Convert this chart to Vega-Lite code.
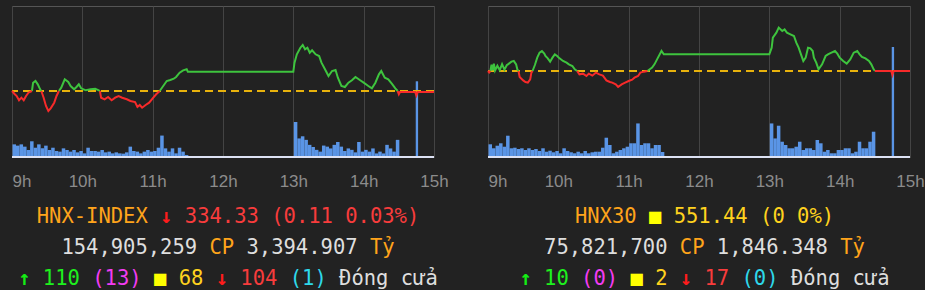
{
  "$schema": "https://vega.github.io/schema/vega-lite/v6.json",
  "background": "#222222",
  "padding": {"left": 7, "top": 5, "right": 0, "bottom": 0},
  "spacing": 34,
  "config": {"view": {"stroke": "#555555", "strokeWidth": 1}},
  "hconcat": [
    {
      "spacing": 12,
      "vconcat": [
        {
          "width": 422,
          "height": 151,
          "resolve": {"scale": {"y": "independent"}},
          "layer": [
            {
              "data": {
                "values": [
                  {"time": "09:00", "vol": 1.77}, {"time": "09:03", "vol": 1.59}, {"time": "09:06", "vol": 1.77}, {"time": "09:09", "vol": 1.45},
                  {"time": "09:12", "vol": 0.98}, {"time": "09:15", "vol": 2.2}, {"time": "09:18", "vol": 1.3}, {"time": "09:21", "vol": 1.77},
                  {"time": "09:24", "vol": 1.21}, {"time": "09:27", "vol": 1.59}, {"time": "09:30", "vol": 0.98}, {"time": "09:33", "vol": 1.3},
                  {"time": "09:36", "vol": 0.84}, {"time": "09:39", "vol": 0.75}, {"time": "09:42", "vol": 1.21}, {"time": "09:45", "vol": 0.98},
                  {"time": "09:48", "vol": 0.75}, {"time": "09:51", "vol": 0.98}, {"time": "09:54", "vol": 0.65}, {"time": "09:57", "vol": 0.84},
                  {"time": "10:00", "vol": 0.51}, {"time": "10:03", "vol": 1.3}, {"time": "10:06", "vol": 0.84}, {"time": "10:09", "vol": 0.84},
                  {"time": "10:12", "vol": 0.75}, {"time": "10:15", "vol": 0.98}, {"time": "10:18", "vol": 0.65}, {"time": "10:21", "vol": 0.75},
                  {"time": "10:24", "vol": 0.51}, {"time": "10:27", "vol": 0.65}, {"time": "10:30", "vol": 0.51}, {"time": "10:33", "vol": 0.47},
                  {"time": "10:36", "vol": 0.65}, {"time": "10:39", "vol": 1.45}, {"time": "10:42", "vol": 0.84}, {"time": "10:45", "vol": 0.75},
                  {"time": "10:48", "vol": 0.51}, {"time": "10:51", "vol": 0.75}, {"time": "10:54", "vol": 0.98}, {"time": "10:57", "vol": 0.75},
                  {"time": "11:00", "vol": 0.84}, {"time": "11:03", "vol": 1.3}, {"time": "11:06", "vol": 3.0}, {"time": "11:09", "vol": 1.21},
                  {"time": "11:12", "vol": 0.75}, {"time": "11:15", "vol": 1.21}, {"time": "11:18", "vol": 0.51}, {"time": "11:21", "vol": 1.3},
                  {"time": "11:24", "vol": 0.75}, {"time": "11:27", "vol": 0.28},
                  {"time": "13:00", "vol": 4.9}, {"time": "13:03", "vol": 2.6}, {"time": "13:06", "vol": 2.9}, {"time": "13:09", "vol": 2.4},
                  {"time": "13:12", "vol": 1.7}, {"time": "13:15", "vol": 1.4}, {"time": "13:18", "vol": 1.0}, {"time": "13:21", "vol": 0.75},
                  {"time": "13:24", "vol": 1.6}, {"time": "13:27", "vol": 1.45}, {"time": "13:30", "vol": 1.2}, {"time": "13:33", "vol": 1.7},
                  {"time": "13:36", "vol": 2.1}, {"time": "13:39", "vol": 1.45}, {"time": "13:42", "vol": 0.84}, {"time": "13:45", "vol": 1.2},
                  {"time": "13:48", "vol": 1.0}, {"time": "13:51", "vol": 0.65}, {"time": "13:54", "vol": 2.1}, {"time": "13:57", "vol": 0.75},
                  {"time": "14:00", "vol": 1.0}, {"time": "14:03", "vol": 0.75}, {"time": "14:06", "vol": 1.2}, {"time": "14:09", "vol": 0.5},
                  {"time": "14:12", "vol": 0.75}, {"time": "14:15", "vol": 0.5}, {"time": "14:18", "vol": 1.7}, {"time": "14:21", "vol": 1.2},
                  {"time": "14:24", "vol": 0.75}, {"time": "14:27", "vol": 2.4}
                ],
                "format": {"parse": {"time": "date:'%H:%M'"}}
              },
              "mark": {"type": "bar", "color": "#5a95e6", "binSpacing": 0},
              "encoding": {
                "x": {
                  "field": "time", "type": "temporal", "timeUnit": {"unit": "hoursminutes", "step": 3}, "title": null,
                  "scale": {"domain": [{"hours": 9}, {"hours": 15}]},
                  "axis": {
                    "title": null,
                    "values": [{"hours": 9}, {"hours": 10}, {"hours": 11}, {"hours": 12}, {"hours": 13}, {"hours": 14}, {"hours": 15}],
                    "labelExpr": "hours(datum.value) + 'h'",
                    "grid": true, "gridColor": "#444444", "gridWidth": 1,
                    "ticks": false, "tickSize": 0, "domain": false,
                    "labelFont": "Liberation Sans", "labelFontSize": 17, "labelColor": "#8c8c8c",
                    "labelPadding": 24, "labelBaseline": "middle", "labelFlush": false, "labelOverlap": false, "labelBound": false,
                    "labelAlign": {"condition": {"test": "hours(datum.value) == 9", "value": "left"}, "value": "center"}
                  }
                },
                "y": {"field": "vol", "type": "quantitative", "scale": {"domain": [0, 21.14]}, "axis": null}
              }
            },
            {
              "data": {"values": [{"time": "14:45", "vol": 10.6}], "format": {"parse": {"time": "date:'%H:%M'"}}},
              "mark": {"type": "bar", "color": "#5a95e6", "binSpacing": 0},
              "encoding": {
                "x": {
                  "field": "time", "type": "temporal", "timeUnit": {"unit": "hoursminutes", "step": 2}, "title": null,
                  "scale": {"domain": [{"hours": 9}, {"hours": 15}]},
                  "axis": {
                    "title": null,
                    "values": [{"hours": 9}, {"hours": 10}, {"hours": 11}, {"hours": 12}, {"hours": 13}, {"hours": 14}, {"hours": 15}],
                    "labelExpr": "hours(datum.value) + 'h'",
                    "grid": true, "gridColor": "#444444", "gridWidth": 1,
                    "ticks": false, "tickSize": 0, "domain": false,
                    "labelFont": "Liberation Sans", "labelFontSize": 17, "labelColor": "#8c8c8c",
                    "labelPadding": 24, "labelBaseline": "middle", "labelFlush": false, "labelOverlap": false, "labelBound": false,
                    "labelAlign": {"condition": {"test": "hours(datum.value) == 9", "value": "left"}, "value": "center"}
                  }
                },
                "y": {"field": "vol", "type": "quantitative", "scale": {"domain": [0, 21.14]}, "axis": null}
              }
            },
            {
              "data": {"values": [{"base": 0}]},
              "mark": {"type": "rule", "color": "#dde2f4", "strokeWidth": 2},
              "encoding": {"y": {"field": "base", "type": "quantitative", "scale": {"domain": [0, 21.14]}, "axis": null}}
            },
            {
              "data": {"values": [{"ref": 334.44}]},
              "mark": {"type": "rule", "color": "#e8b20c", "strokeWidth": 2, "strokeDash": [8, 5]},
              "encoding": {"y": {"field": "ref", "type": "quantitative", "scale": {"domain": [327.84, 342.94]}, "axis": null}}
            },
            {
              "data": {
                "values": [
                  {"time": "09:00", "price": 334.44, "seg": 1, "trend": "down"}, {"time": "09:02", "price": 334.17, "seg": 1, "trend": "down"},
                  {"time": "09:04", "price": 333.94, "seg": 1, "trend": "down"}, {"time": "09:06", "price": 333.51, "seg": 1, "trend": "down"},
                  {"time": "09:08", "price": 333.77, "seg": 1, "trend": "down"}, {"time": "09:10", "price": 333.51, "seg": 1, "trend": "down"},
                  {"time": "09:12", "price": 333.94, "seg": 1, "trend": "down"}, {"time": "09:14", "price": 334.27, "seg": 1, "trend": "down"},
                  {"time": "09:17", "price": 334.44, "seg": 1, "trend": "down"},
                  {"time": "09:17", "price": 334.44, "seg": 2, "trend": "up"}, {"time": "09:18", "price": 335.27, "seg": 2, "trend": "up"},
                  {"time": "09:20", "price": 335.44, "seg": 2, "trend": "up"}, {"time": "09:22", "price": 335.11, "seg": 2, "trend": "up"},
                  {"time": "09:24", "price": 334.61, "seg": 2, "trend": "up"}, {"time": "09:25", "price": 334.44, "seg": 2, "trend": "up"},
                  {"time": "09:25", "price": 334.44, "seg": 3, "trend": "down"}, {"time": "09:27", "price": 333.77, "seg": 3, "trend": "down"},
                  {"time": "09:29", "price": 332.94, "seg": 3, "trend": "down"}, {"time": "09:31", "price": 332.44, "seg": 3, "trend": "down"},
                  {"time": "09:33", "price": 332.71, "seg": 3, "trend": "down"}, {"time": "09:36", "price": 333.27, "seg": 3, "trend": "down"},
                  {"time": "09:38", "price": 333.94, "seg": 3, "trend": "down"}, {"time": "09:40", "price": 334.44, "seg": 3, "trend": "down"},
                  {"time": "09:40", "price": 334.44, "seg": 4, "trend": "up"}, {"time": "09:42", "price": 334.77, "seg": 4, "trend": "up"},
                  {"time": "09:45", "price": 335.61, "seg": 4, "trend": "up"}, {"time": "09:48", "price": 335.34, "seg": 4, "trend": "up"},
                  {"time": "09:50", "price": 334.94, "seg": 4, "trend": "up"}, {"time": "09:53", "price": 334.61, "seg": 4, "trend": "up"},
                  {"time": "09:55", "price": 334.84, "seg": 4, "trend": "up"}, {"time": "09:57", "price": 335.11, "seg": 4, "trend": "up"},
                  {"time": "09:59", "price": 334.71, "seg": 4, "trend": "up"}, {"time": "10:01", "price": 334.61, "seg": 4, "trend": "up"},
                  {"time": "10:03", "price": 334.51, "seg": 4, "trend": "up"}, {"time": "10:07", "price": 334.61, "seg": 4, "trend": "up"},
                  {"time": "10:11", "price": 334.67, "seg": 4, "trend": "up"}, {"time": "10:14", "price": 334.51, "seg": 4, "trend": "up"},
                  {"time": "10:15", "price": 334.44, "seg": 4, "trend": "up"},
                  {"time": "10:15", "price": 334.44, "seg": 5, "trend": "down"}, {"time": "10:16", "price": 333.77, "seg": 5, "trend": "down"},
                  {"time": "10:19", "price": 333.61, "seg": 5, "trend": "down"}, {"time": "10:22", "price": 333.84, "seg": 5, "trend": "down"},
                  {"time": "10:25", "price": 333.51, "seg": 5, "trend": "down"}, {"time": "10:28", "price": 333.77, "seg": 5, "trend": "down"},
                  {"time": "10:31", "price": 333.94, "seg": 5, "trend": "down"}, {"time": "10:34", "price": 333.77, "seg": 5, "trend": "down"},
                  {"time": "10:38", "price": 333.61, "seg": 5, "trend": "down"}, {"time": "10:41", "price": 333.44, "seg": 5, "trend": "down"},
                  {"time": "10:45", "price": 333.34, "seg": 5, "trend": "down"}, {"time": "10:47", "price": 332.84, "seg": 5, "trend": "down"},
                  {"time": "10:49", "price": 333.04, "seg": 5, "trend": "down"}, {"time": "10:51", "price": 332.77, "seg": 5, "trend": "down"},
                  {"time": "10:54", "price": 333.04, "seg": 5, "trend": "down"}, {"time": "10:57", "price": 333.27, "seg": 5, "trend": "down"},
                  {"time": "11:00", "price": 333.71, "seg": 5, "trend": "down"}, {"time": "11:03", "price": 334.11, "seg": 5, "trend": "down"},
                  {"time": "11:06", "price": 334.44, "seg": 5, "trend": "down"},
                  {"time": "11:06", "price": 334.44, "seg": 6, "trend": "up"}, {"time": "11:09", "price": 334.94, "seg": 6, "trend": "up"},
                  {"time": "11:12", "price": 335.44, "seg": 6, "trend": "up"}, {"time": "11:15", "price": 335.54, "seg": 6, "trend": "up"},
                  {"time": "11:18", "price": 335.67, "seg": 6, "trend": "up"}, {"time": "11:20", "price": 335.84, "seg": 6, "trend": "up"},
                  {"time": "11:23", "price": 336.27, "seg": 6, "trend": "up"}, {"time": "11:26", "price": 336.51, "seg": 6, "trend": "up"},
                  {"time": "11:29", "price": 336.61, "seg": 6, "trend": "up"}, {"time": "11:30", "price": 336.37, "seg": 6, "trend": "up"},
                  {"time": "13:00", "price": 336.37, "seg": 6, "trend": "up"}, {"time": "13:01", "price": 337.27, "seg": 6, "trend": "up"},
                  {"time": "13:03", "price": 338.11, "seg": 6, "trend": "up"}, {"time": "13:06", "price": 338.77, "seg": 6, "trend": "up"},
                  {"time": "13:08", "price": 339.04, "seg": 6, "trend": "up"}, {"time": "13:10", "price": 338.61, "seg": 6, "trend": "up"},
                  {"time": "13:12", "price": 338.77, "seg": 6, "trend": "up"}, {"time": "13:14", "price": 338.27, "seg": 6, "trend": "up"},
                  {"time": "13:16", "price": 338.51, "seg": 6, "trend": "up"}, {"time": "13:19", "price": 338.11, "seg": 6, "trend": "up"},
                  {"time": "13:22", "price": 337.94, "seg": 6, "trend": "up"}, {"time": "13:24", "price": 337.27, "seg": 6, "trend": "up"},
                  {"time": "13:27", "price": 336.61, "seg": 6, "trend": "up"}, {"time": "13:30", "price": 335.94, "seg": 6, "trend": "up"},
                  {"time": "13:33", "price": 336.44, "seg": 6, "trend": "up"}, {"time": "13:36", "price": 336.54, "seg": 6, "trend": "up"},
                  {"time": "13:38", "price": 335.77, "seg": 6, "trend": "up"}, {"time": "13:41", "price": 334.94, "seg": 6, "trend": "up"},
                  {"time": "13:44", "price": 334.84, "seg": 6, "trend": "up"}, {"time": "13:47", "price": 335.27, "seg": 6, "trend": "up"},
                  {"time": "13:50", "price": 335.51, "seg": 6, "trend": "up"}, {"time": "13:53", "price": 335.84, "seg": 6, "trend": "up"},
                  {"time": "13:57", "price": 335.51, "seg": 6, "trend": "up"}, {"time": "14:00", "price": 335.27, "seg": 6, "trend": "up"},
                  {"time": "14:04", "price": 334.94, "seg": 6, "trend": "up"}, {"time": "14:07", "price": 334.71, "seg": 6, "trend": "up"},
                  {"time": "14:10", "price": 335.27, "seg": 6, "trend": "up"}, {"time": "14:13", "price": 336.11, "seg": 6, "trend": "up"},
                  {"time": "14:15", "price": 336.44, "seg": 6, "trend": "up"}, {"time": "14:18", "price": 335.77, "seg": 6, "trend": "up"},
                  {"time": "14:21", "price": 335.61, "seg": 6, "trend": "up"}, {"time": "14:24", "price": 335.17, "seg": 6, "trend": "up"},
                  {"time": "14:27", "price": 334.71, "seg": 6, "trend": "up"}, {"time": "14:29", "price": 334.44, "seg": 6, "trend": "up"},
                  {"time": "14:29", "price": 334.44, "seg": 7, "trend": "down"}, {"time": "14:30", "price": 334.11, "seg": 7, "trend": "down"},
                  {"time": "14:31", "price": 334.33, "seg": 7, "trend": "down"}, {"time": "14:44", "price": 334.33, "seg": 7, "trend": "down"},
                  {"time": "14:45", "price": 334.0, "seg": 7, "trend": "down"}, {"time": "14:46", "price": 334.33, "seg": 7, "trend": "down"},
                  {"time": "15:00", "price": 334.33, "seg": 7, "trend": "down"}
                ],
                "format": {"parse": {"time": "date:'%H:%M'"}}
              },
              "encoding": {
                "x": {
                  "field": "time", "type": "temporal", "timeUnit": "hoursminutes", "title": null,
                  "scale": {"domain": [{"hours": 9}, {"hours": 15}]},
                  "axis": {
                    "title": null,
                    "values": [{"hours": 9}, {"hours": 10}, {"hours": 11}, {"hours": 12}, {"hours": 13}, {"hours": 14}, {"hours": 15}],
                    "labelExpr": "hours(datum.value) + 'h'",
                    "grid": true, "gridColor": "#444444", "gridWidth": 1,
                    "ticks": false, "tickSize": 0, "domain": false,
                    "labelFont": "Liberation Sans", "labelFontSize": 17, "labelColor": "#8c8c8c",
                    "labelPadding": 24, "labelBaseline": "middle", "labelFlush": false, "labelOverlap": false, "labelBound": false,
                    "labelAlign": {"condition": {"test": "hours(datum.value) == 9", "value": "left"}, "value": "center"}
                  }
                },
                "y": {"field": "price", "type": "quantitative", "scale": {"domain": [327.84, 342.94]}, "axis": null},
                "detail": {"field": "seg", "type": "nominal"}
              },
              "layer": [
                {"transform": [{"filter": "datum.trend == 'up'"}], "mark": {"type": "line", "color": "#3ec43e", "strokeWidth": 2}},
                {"transform": [{"filter": "datum.trend == 'down'"}], "mark": {"type": "line", "color": "#f72a2a", "strokeWidth": 2}}
              ]
            }
          ]
        },
        {
          "width": 432,
          "height": 89,
          "view": {"stroke": null},
          "data": {
            "values": [
              {"panel": "HNX-INDEX", "line": 1, "kind": "name", "text": "\u200bHNX-INDEX\u00a0\u00a0\u00a0\u00a0\u00a0\u00a0\u00a0\u00a0\u00a0\u00a0\u00a0\u00a0\u00a0\u00a0\u00a0\u00a0\u00a0\u00a0\u00a0\u00a0\u00a0\u00a0\u200b"},
              {"panel": "HNX-INDEX", "line": 1, "kind": "downArrow", "text": "\u200b\u00a0\u00a0\u00a0\u00a0\u00a0\u00a0\u00a0\u00a0\u00a0\u00a0↓\u00a0\u00a0\u00a0\u00a0\u00a0\u00a0\u00a0\u00a0\u00a0\u00a0\u00a0\u00a0\u00a0\u00a0\u00a0\u00a0\u00a0\u00a0\u00a0\u00a0\u200b"},
              {"panel": "HNX-INDEX", "line": 1, "kind": "down", "text": "\u200b\u00a0\u00a0\u00a0\u00a0\u00a0\u00a0\u00a0\u00a0\u00a0\u00a0\u00a0\u00a0334.33\u00a0(0.11\u00a00.03%)\u200b"},
              {"panel": "HNX-INDEX", "line": 2, "kind": "figure", "text": "\u200b154,905,259\u00a0\u00a0\u00a0\u00a03,394.907\u00a0\u00a0\u00a0\u200b"},
              {"panel": "HNX-INDEX", "line": 2, "kind": "name", "text": "\u200b\u00a0\u00a0\u00a0\u00a0\u00a0\u00a0\u00a0\u00a0\u00a0\u00a0\u00a0\u00a0CP\u00a0\u00a0\u00a0\u00a0\u00a0\u00a0\u00a0\u00a0\u00a0\u00a0\u00a0Tỷ\u200b"},
              {"panel": "HNX-INDEX", "line": 3, "kind": "upArrow", "text": "\u200b↑\u00a0\u00a0\u00a0\u00a0\u00a0\u00a0\u00a0\u00a0\u00a0\u00a0\u00a0\u00a0\u00a0\u00a0\u00a0\u00a0\u00a0\u00a0\u00a0\u00a0\u00a0\u00a0\u00a0\u00a0\u00a0\u00a0\u00a0\u00a0\u00a0\u00a0\u00a0\u00a0\u00a0\u200b"},
              {"panel": "HNX-INDEX", "line": 3, "kind": "up", "text": "\u200b\u00a0\u00a0110\u00a0\u00a0\u00a0\u00a0\u00a0\u00a0\u00a0\u00a0\u00a0\u00a0\u00a0\u00a0\u00a0\u00a0\u00a0\u00a0\u00a0\u00a0\u00a0\u00a0\u00a0\u00a0\u00a0\u00a0\u00a0\u00a0\u00a0\u00a0\u00a0\u200b"},
              {"panel": "HNX-INDEX", "line": 3, "kind": "ceiling", "text": "\u200b\u00a0\u00a0\u00a0\u00a0\u00a0\u00a0(13)\u00a0\u00a0\u00a0\u00a0\u00a0\u00a0\u00a0\u00a0\u00a0\u00a0\u00a0\u00a0\u00a0\u00a0\u00a0\u00a0\u00a0\u00a0\u00a0\u00a0\u00a0\u00a0\u00a0\u00a0\u200b"},
              {"panel": "HNX-INDEX", "line": 3, "kind": "refSquare", "text": "\u200b\u00a0\u00a0\u00a0\u00a0\u00a0\u00a0\u00a0\u00a0\u00a0\u00a0\u00a0■\u00a0\u00a0\u00a0\u00a0\u00a0\u00a0\u00a0\u00a0\u00a0\u00a0\u00a0\u00a0\u00a0\u00a0\u00a0\u00a0\u00a0\u00a0\u00a0\u00a0\u00a0\u00a0\u200b"},
              {"panel": "HNX-INDEX", "line": 3, "kind": "ref", "text": "\u200b\u00a0\u00a0\u00a0\u00a0\u00a0\u00a0\u00a0\u00a0\u00a0\u00a0\u00a0\u00a0\u00a068\u00a0\u00a0\u00a0\u00a0\u00a0\u00a0\u00a0\u00a0\u00a0\u00a0\u00a0\u00a0\u00a0\u00a0\u00a0\u00a0\u00a0\u00a0\u00a0\u200b"},
              {"panel": "HNX-INDEX", "line": 3, "kind": "downArrow", "text": "\u200b\u00a0\u00a0\u00a0\u00a0\u00a0\u00a0\u00a0\u00a0\u00a0\u00a0\u00a0\u00a0\u00a0\u00a0\u00a0\u00a0↓\u00a0\u00a0\u00a0\u00a0\u00a0\u00a0\u00a0\u00a0\u00a0\u00a0\u00a0\u00a0\u00a0\u00a0\u00a0\u00a0\u00a0\u200b"},
              {"panel": "HNX-INDEX", "line": 3, "kind": "down", "text": "\u200b\u00a0\u00a0\u00a0\u00a0\u00a0\u00a0\u00a0\u00a0\u00a0\u00a0\u00a0\u00a0\u00a0\u00a0\u00a0\u00a0\u00a0\u00a0104\u00a0\u00a0\u00a0\u00a0\u00a0\u00a0\u00a0\u00a0\u00a0\u00a0\u00a0\u00a0\u00a0\u200b"},
              {"panel": "HNX-INDEX", "line": 3, "kind": "floor", "text": "\u200b\u00a0\u00a0\u00a0\u00a0\u00a0\u00a0\u00a0\u00a0\u00a0\u00a0\u00a0\u00a0\u00a0\u00a0\u00a0\u00a0\u00a0\u00a0\u00a0\u00a0\u00a0\u00a0(1)\u00a0\u00a0\u00a0\u00a0\u00a0\u00a0\u00a0\u00a0\u00a0\u200b"},
              {"panel": "HNX-INDEX", "line": 3, "kind": "figure", "text": "\u200b\u00a0\u00a0\u00a0\u00a0\u00a0\u00a0\u00a0\u00a0\u00a0\u00a0\u00a0\u00a0\u00a0\u00a0\u00a0\u00a0\u00a0\u00a0\u00a0\u00a0\u00a0\u00a0\u00a0\u00a0\u00a0\u00a0Đóng\u00a0cửa\u200b"}
            ]
          },
          "encoding": {
            "x": {"field": "panel", "type": "nominal", "axis": null},
            "y": {"field": "line", "type": "quantitative", "axis": null, "scale": {"domain": [0.5, 3.4], "reverse": true, "nice": false, "zero": false}},
            "text": {"field": "text", "type": "nominal"},
            "color": {
              "field": "kind", "type": "nominal", "legend": null,
              "scale": {
                "domain": ["name", "figure", "down", "downArrow", "up", "upArrow", "ceiling", "floor", "ref", "refSquare"],
                "range": ["#ffa41b", "#dedede", "#f83c3c", "#ff1c1c", "#1ef01e", "#14ee14", "#f23cf2", "#2ed8ea", "#ffd21e", "#ffff00"]
              }
            }
          },
          "layer": [
            {"transform": [{"filter": "datum.kind != 'upArrow' && datum.kind != 'downArrow'"}], "mark": {"type": "text", "font": "DejaVu Sans Mono", "fontSize": 20.5, "baseline": "middle", "align": "center"}},
            {"transform": [{"filter": "datum.kind == 'upArrow' || datum.kind == 'downArrow'"}], "mark": {"type": "text", "font": "DejaVu Sans Mono", "fontSize": 20.5, "fontWeight": "bold", "baseline": "middle", "align": "center"}}
          ]
        }
      ]
    },
    {
      "spacing": 12,
      "vconcat": [
        {
          "width": 422,
          "height": 151,
          "resolve": {"scale": {"y": "independent"}},
          "layer": [
            {
              "data": {
                "values": [
                  {"time": "09:00", "vol": 0.89}, {"time": "09:03", "vol": 0.61}, {"time": "09:06", "vol": 0.79}, {"time": "09:09", "vol": 0.96},
                  {"time": "09:12", "vol": 0.72}, {"time": "09:15", "vol": 1.49}, {"time": "09:18", "vol": 0.61}, {"time": "09:21", "vol": 0.65},
                  {"time": "09:24", "vol": 0.56}, {"time": "09:27", "vol": 0.61}, {"time": "09:30", "vol": 0.49}, {"time": "09:33", "vol": 0.61},
                  {"time": "09:36", "vol": 0.49}, {"time": "09:39", "vol": 0.56}, {"time": "09:42", "vol": 0.42}, {"time": "09:45", "vol": 0.61},
                  {"time": "09:48", "vol": 0.37}, {"time": "09:51", "vol": 0.44}, {"time": "09:54", "vol": 0.33}, {"time": "09:57", "vol": 0.42},
                  {"time": "10:00", "vol": 0.26}, {"time": "10:03", "vol": 0.61}, {"time": "10:06", "vol": 0.42}, {"time": "10:09", "vol": 0.33},
                  {"time": "10:12", "vol": 0.26}, {"time": "10:15", "vol": 0.37}, {"time": "10:18", "vol": 0.26}, {"time": "10:21", "vol": 0.42},
                  {"time": "10:24", "vol": 0.26}, {"time": "10:27", "vol": 0.33}, {"time": "10:30", "vol": 0.37}, {"time": "10:33", "vol": 0.37},
                  {"time": "10:36", "vol": 0.65}, {"time": "10:39", "vol": 1.35}, {"time": "10:42", "vol": 0.84}, {"time": "10:45", "vol": 0.26},
                  {"time": "10:48", "vol": 0.37}, {"time": "10:51", "vol": 0.49}, {"time": "10:54", "vol": 0.61}, {"time": "10:57", "vol": 0.72},
                  {"time": "11:00", "vol": 0.96}, {"time": "11:03", "vol": 0.96}, {"time": "11:06", "vol": 2.35}, {"time": "11:09", "vol": 0.84},
                  {"time": "11:12", "vol": 0.96}, {"time": "11:15", "vol": 0.96}, {"time": "11:18", "vol": 0.61}, {"time": "11:21", "vol": 0.84},
                  {"time": "11:24", "vol": 0.84}, {"time": "11:27", "vol": 0.35},
                  {"time": "13:00", "vol": 2.35}, {"time": "13:03", "vol": 1.3}, {"time": "13:06", "vol": 2.19}, {"time": "13:09", "vol": 1.07},
                  {"time": "13:12", "vol": 0.84}, {"time": "13:15", "vol": 0.61}, {"time": "13:18", "vol": 0.61}, {"time": "13:21", "vol": 0.72},
                  {"time": "13:24", "vol": 1.07}, {"time": "13:27", "vol": 0.49}, {"time": "13:30", "vol": 0.61}, {"time": "13:33", "vol": 0.61},
                  {"time": "13:36", "vol": 0.49}, {"time": "13:39", "vol": 1.19}, {"time": "13:42", "vol": 0.96}, {"time": "13:45", "vol": 0.37},
                  {"time": "13:48", "vol": 0.49}, {"time": "13:51", "vol": 0.26}, {"time": "13:54", "vol": 0.26}, {"time": "13:57", "vol": 0.49},
                  {"time": "14:00", "vol": 0.49}, {"time": "14:03", "vol": 0.61}, {"time": "14:06", "vol": 0.61}, {"time": "14:09", "vol": 0.26},
                  {"time": "14:12", "vol": 0.37}, {"time": "14:15", "vol": 1.07}, {"time": "14:18", "vol": 0.61}, {"time": "14:21", "vol": 0.61},
                  {"time": "14:24", "vol": 1.07}, {"time": "14:27", "vol": 1.77}
                ],
                "format": {"parse": {"time": "date:'%H:%M'"}}
              },
              "mark": {"type": "bar", "color": "#5a95e6", "binSpacing": 0},
              "encoding": {
                "x": {
                  "field": "time", "type": "temporal", "timeUnit": {"unit": "hoursminutes", "step": 3}, "title": null,
                  "scale": {"domain": [{"hours": 9}, {"hours": 15}]},
                  "axis": {
                    "title": null,
                    "values": [{"hours": 9}, {"hours": 10}, {"hours": 11}, {"hours": 12}, {"hours": 13}, {"hours": 14}, {"hours": 15}],
                    "labelExpr": "hours(datum.value) + 'h'",
                    "grid": true, "gridColor": "#444444", "gridWidth": 1,
                    "ticks": false, "tickSize": 0, "domain": false,
                    "labelFont": "Liberation Sans", "labelFontSize": 17, "labelColor": "#8c8c8c",
                    "labelPadding": 24, "labelBaseline": "middle", "labelFlush": false, "labelOverlap": false, "labelBound": false,
                    "labelAlign": {"condition": {"test": "hours(datum.value) == 9", "value": "left"}, "value": "center"}
                  }
                },
                "y": {"field": "vol", "type": "quantitative", "scale": {"domain": [0, 10.57]}, "axis": null}
              }
            },
            {
              "data": {"values": [{"time": "14:45", "vol": 7.7}], "format": {"parse": {"time": "date:'%H:%M'"}}},
              "mark": {"type": "bar", "color": "#5a95e6", "binSpacing": 0},
              "encoding": {
                "x": {
                  "field": "time", "type": "temporal", "timeUnit": {"unit": "hoursminutes", "step": 2}, "title": null,
                  "scale": {"domain": [{"hours": 9}, {"hours": 15}]},
                  "axis": {
                    "title": null,
                    "values": [{"hours": 9}, {"hours": 10}, {"hours": 11}, {"hours": 12}, {"hours": 13}, {"hours": 14}, {"hours": 15}],
                    "labelExpr": "hours(datum.value) + 'h'",
                    "grid": true, "gridColor": "#444444", "gridWidth": 1,
                    "ticks": false, "tickSize": 0, "domain": false,
                    "labelFont": "Liberation Sans", "labelFontSize": 17, "labelColor": "#8c8c8c",
                    "labelPadding": 24, "labelBaseline": "middle", "labelFlush": false, "labelOverlap": false, "labelBound": false,
                    "labelAlign": {"condition": {"test": "hours(datum.value) == 9", "value": "left"}, "value": "center"}
                  }
                },
                "y": {"field": "vol", "type": "quantitative", "scale": {"domain": [0, 10.57]}, "axis": null}
              }
            },
            {
              "data": {"values": [{"base": 0}]},
              "mark": {"type": "rule", "color": "#dde2f4", "strokeWidth": 2},
              "encoding": {"y": {"field": "base", "type": "quantitative", "scale": {"domain": [0, 10.57]}, "axis": null}}
            },
            {
              "data": {"values": [{"ref": 551.44}]},
              "mark": {"type": "rule", "color": "#e8b20c", "strokeWidth": 2, "strokeDash": [8, 5]},
              "encoding": {"y": {"field": "ref", "type": "quantitative", "scale": {"domain": [534.24, 564.44]}, "axis": null}}
            },
            {
              "data": {
                "values": [
                  {"time": "09:00", "price": 551.44, "seg": 1, "trend": "down"}, {"time": "09:01", "price": 551.15, "seg": 1, "trend": "down"},
                  {"time": "09:02", "price": 551.44, "seg": 1, "trend": "down"},
                  {"time": "09:02", "price": 551.44, "seg": 2, "trend": "up"}, {"time": "09:03", "price": 552.7, "seg": 2, "trend": "up"},
                  {"time": "09:04", "price": 551.6, "seg": 2, "trend": "up"}, {"time": "09:05", "price": 552.9, "seg": 2, "trend": "up"},
                  {"time": "09:06", "price": 551.55, "seg": 2, "trend": "up"}, {"time": "09:08", "price": 552.5, "seg": 2, "trend": "up"},
                  {"time": "09:10", "price": 551.6, "seg": 2, "trend": "up"}, {"time": "09:12", "price": 552.8, "seg": 2, "trend": "up"},
                  {"time": "09:14", "price": 551.7, "seg": 2, "trend": "up"}, {"time": "09:16", "price": 552.6, "seg": 2, "trend": "up"},
                  {"time": "09:17", "price": 552.77, "seg": 2, "trend": "up"}, {"time": "09:20", "price": 553.31, "seg": 2, "trend": "up"},
                  {"time": "09:22", "price": 553.44, "seg": 2, "trend": "up"}, {"time": "09:24", "price": 552.77, "seg": 2, "trend": "up"},
                  {"time": "09:25", "price": 551.77, "seg": 2, "trend": "up"}, {"time": "09:26", "price": 551.44, "seg": 2, "trend": "up"},
                  {"time": "09:26", "price": 551.44, "seg": 3, "trend": "down"}, {"time": "09:27", "price": 550.24, "seg": 3, "trend": "down"},
                  {"time": "09:30", "price": 549.57, "seg": 3, "trend": "down"}, {"time": "09:32", "price": 549.24, "seg": 3, "trend": "down"},
                  {"time": "09:34", "price": 549.11, "seg": 3, "trend": "down"}, {"time": "09:36", "price": 549.77, "seg": 3, "trend": "down"},
                  {"time": "09:37", "price": 551.11, "seg": 3, "trend": "down"}, {"time": "09:38", "price": 551.44, "seg": 3, "trend": "down"},
                  {"time": "09:38", "price": 551.44, "seg": 4, "trend": "up"}, {"time": "09:40", "price": 552.64, "seg": 4, "trend": "up"},
                  {"time": "09:42", "price": 554.11, "seg": 4, "trend": "up"}, {"time": "09:44", "price": 555.11, "seg": 4, "trend": "up"},
                  {"time": "09:46", "price": 555.44, "seg": 4, "trend": "up"}, {"time": "09:48", "price": 554.91, "seg": 4, "trend": "up"},
                  {"time": "09:49", "price": 554.44, "seg": 4, "trend": "up"}, {"time": "09:51", "price": 553.97, "seg": 4, "trend": "up"},
                  {"time": "09:53", "price": 553.31, "seg": 4, "trend": "up"}, {"time": "09:55", "price": 554.11, "seg": 4, "trend": "up"},
                  {"time": "09:57", "price": 554.77, "seg": 4, "trend": "up"}, {"time": "09:59", "price": 554.44, "seg": 4, "trend": "up"},
                  {"time": "10:01", "price": 553.97, "seg": 4, "trend": "up"}, {"time": "10:04", "price": 553.44, "seg": 4, "trend": "up"},
                  {"time": "10:07", "price": 553.11, "seg": 4, "trend": "up"}, {"time": "10:09", "price": 552.77, "seg": 4, "trend": "up"},
                  {"time": "10:12", "price": 552.44, "seg": 4, "trend": "up"}, {"time": "10:14", "price": 551.77, "seg": 4, "trend": "up"},
                  {"time": "10:16", "price": 551.44, "seg": 4, "trend": "up"},
                  {"time": "10:16", "price": 551.44, "seg": 5, "trend": "down"}, {"time": "10:18", "price": 550.77, "seg": 5, "trend": "down"},
                  {"time": "10:21", "price": 550.91, "seg": 5, "trend": "down"}, {"time": "10:24", "price": 550.44, "seg": 5, "trend": "down"},
                  {"time": "10:26", "price": 550.91, "seg": 5, "trend": "down"}, {"time": "10:29", "price": 550.51, "seg": 5, "trend": "down"},
                  {"time": "10:32", "price": 551.11, "seg": 5, "trend": "down"}, {"time": "10:35", "price": 550.77, "seg": 5, "trend": "down"},
                  {"time": "10:38", "price": 550.51, "seg": 5, "trend": "down"}, {"time": "10:41", "price": 549.57, "seg": 5, "trend": "down"},
                  {"time": "10:44", "price": 549.24, "seg": 5, "trend": "down"}, {"time": "10:46", "price": 549.11, "seg": 5, "trend": "down"},
                  {"time": "10:49", "price": 548.77, "seg": 5, "trend": "down"}, {"time": "10:51", "price": 548.24, "seg": 5, "trend": "down"},
                  {"time": "10:54", "price": 548.77, "seg": 5, "trend": "down"}, {"time": "10:57", "price": 549.11, "seg": 5, "trend": "down"},
                  {"time": "11:00", "price": 549.44, "seg": 5, "trend": "down"}, {"time": "11:03", "price": 549.71, "seg": 5, "trend": "down"},
                  {"time": "11:05", "price": 550.11, "seg": 5, "trend": "down"}, {"time": "11:08", "price": 550.44, "seg": 5, "trend": "down"},
                  {"time": "11:10", "price": 551.11, "seg": 5, "trend": "down"}, {"time": "11:13", "price": 551.31, "seg": 5, "trend": "down"},
                  {"time": "11:16", "price": 551.44, "seg": 5, "trend": "down"},
                  {"time": "11:16", "price": 551.44, "seg": 6, "trend": "up"}, {"time": "11:20", "price": 552.11, "seg": 6, "trend": "up"},
                  {"time": "11:22", "price": 552.77, "seg": 6, "trend": "up"}, {"time": "11:25", "price": 554.11, "seg": 6, "trend": "up"},
                  {"time": "11:28", "price": 555.44, "seg": 6, "trend": "up"}, {"time": "11:30", "price": 554.77, "seg": 6, "trend": "up"},
                  {"time": "13:00", "price": 554.77, "seg": 6, "trend": "up"}, {"time": "13:02", "price": 556.11, "seg": 6, "trend": "up"},
                  {"time": "13:03", "price": 558.11, "seg": 6, "trend": "up"}, {"time": "13:06", "price": 559.11, "seg": 6, "trend": "up"},
                  {"time": "13:08", "price": 560.11, "seg": 6, "trend": "up"}, {"time": "13:11", "price": 559.44, "seg": 6, "trend": "up"},
                  {"time": "13:13", "price": 559.77, "seg": 6, "trend": "up"}, {"time": "13:15", "price": 559.11, "seg": 6, "trend": "up"},
                  {"time": "13:18", "price": 558.77, "seg": 6, "trend": "up"}, {"time": "13:21", "price": 558.44, "seg": 6, "trend": "up"},
                  {"time": "13:23", "price": 557.11, "seg": 6, "trend": "up"}, {"time": "13:25", "price": 556.11, "seg": 6, "trend": "up"},
                  {"time": "13:27", "price": 554.77, "seg": 6, "trend": "up"}, {"time": "13:29", "price": 553.44, "seg": 6, "trend": "up"},
                  {"time": "13:31", "price": 554.11, "seg": 6, "trend": "up"}, {"time": "13:33", "price": 556.11, "seg": 6, "trend": "up"},
                  {"time": "13:35", "price": 555.97, "seg": 6, "trend": "up"}, {"time": "13:37", "price": 555.44, "seg": 6, "trend": "up"},
                  {"time": "13:38", "price": 554.11, "seg": 6, "trend": "up"}, {"time": "13:40", "price": 553.11, "seg": 6, "trend": "up"},
                  {"time": "13:42", "price": 551.77, "seg": 6, "trend": "up"}, {"time": "13:45", "price": 552.77, "seg": 6, "trend": "up"},
                  {"time": "13:48", "price": 554.44, "seg": 6, "trend": "up"}, {"time": "13:50", "price": 554.77, "seg": 6, "trend": "up"},
                  {"time": "13:53", "price": 555.11, "seg": 6, "trend": "up"}, {"time": "13:56", "price": 555.44, "seg": 6, "trend": "up"},
                  {"time": "13:58", "price": 554.91, "seg": 6, "trend": "up"}, {"time": "14:00", "price": 554.11, "seg": 6, "trend": "up"},
                  {"time": "14:03", "price": 553.44, "seg": 6, "trend": "up"}, {"time": "14:06", "price": 552.91, "seg": 6, "trend": "up"},
                  {"time": "14:09", "price": 553.77, "seg": 6, "trend": "up"}, {"time": "14:12", "price": 555.11, "seg": 6, "trend": "up"},
                  {"time": "14:15", "price": 555.44, "seg": 6, "trend": "up"}, {"time": "14:17", "price": 554.77, "seg": 6, "trend": "up"},
                  {"time": "14:19", "price": 554.24, "seg": 6, "trend": "up"}, {"time": "14:22", "price": 553.97, "seg": 6, "trend": "up"},
                  {"time": "14:25", "price": 553.44, "seg": 6, "trend": "up"}, {"time": "14:27", "price": 552.77, "seg": 6, "trend": "up"},
                  {"time": "14:29", "price": 551.77, "seg": 6, "trend": "up"}, {"time": "14:30", "price": 551.44, "seg": 6, "trend": "up"},
                  {"time": "14:30", "price": 551.44, "seg": 7, "trend": "down"}, {"time": "14:44", "price": 551.44, "seg": 7, "trend": "down"},
                  {"time": "14:45", "price": 550.64, "seg": 7, "trend": "down"}, {"time": "14:46", "price": 551.44, "seg": 7, "trend": "down"},
                  {"time": "15:00", "price": 551.44, "seg": 7, "trend": "down"}
                ],
                "format": {"parse": {"time": "date:'%H:%M'"}}
              },
              "encoding": {
                "x": {
                  "field": "time", "type": "temporal", "timeUnit": "hoursminutes", "title": null,
                  "scale": {"domain": [{"hours": 9}, {"hours": 15}]},
                  "axis": {
                    "title": null,
                    "values": [{"hours": 9}, {"hours": 10}, {"hours": 11}, {"hours": 12}, {"hours": 13}, {"hours": 14}, {"hours": 15}],
                    "labelExpr": "hours(datum.value) + 'h'",
                    "grid": true, "gridColor": "#444444", "gridWidth": 1,
                    "ticks": false, "tickSize": 0, "domain": false,
                    "labelFont": "Liberation Sans", "labelFontSize": 17, "labelColor": "#8c8c8c",
                    "labelPadding": 24, "labelBaseline": "middle", "labelFlush": false, "labelOverlap": false, "labelBound": false,
                    "labelAlign": {"condition": {"test": "hours(datum.value) == 9", "value": "left"}, "value": "center"}
                  }
                },
                "y": {"field": "price", "type": "quantitative", "scale": {"domain": [534.24, 564.44]}, "axis": null},
                "detail": {"field": "seg", "type": "nominal"}
              },
              "layer": [
                {"transform": [{"filter": "datum.trend == 'up'"}], "mark": {"type": "line", "color": "#3ec43e", "strokeWidth": 2}},
                {"transform": [{"filter": "datum.trend == 'down'"}], "mark": {"type": "line", "color": "#f72a2a", "strokeWidth": 2}}
              ]
            }
          ]
        },
        {
          "width": 433,
          "height": 89,
          "view": {"stroke": null},
          "data": {
            "values": [
              {"panel": "HNX30", "line": 1, "kind": "name", "text": "\u200bHNX30\u00a0\u00a0\u00a0\u00a0\u00a0\u00a0\u00a0\u00a0\u00a0\u00a0\u00a0\u00a0\u00a0\u00a0\u00a0\u00a0\u200b"},
              {"panel": "HNX30", "line": 1, "kind": "refSquare", "text": "\u200b\u00a0\u00a0\u00a0\u00a0\u00a0\u00a0■\u00a0\u00a0\u00a0\u00a0\u00a0\u00a0\u00a0\u00a0\u00a0\u00a0\u00a0\u00a0\u00a0\u00a0\u200b"},
              {"panel": "HNX30", "line": 1, "kind": "ref", "text": "\u200b\u00a0\u00a0\u00a0\u00a0\u00a0\u00a0\u00a0\u00a0551.44\u00a0(0\u00a00%)\u200b"},
              {"panel": "HNX30", "line": 2, "kind": "figure", "text": "\u200b75,821,700\u00a0\u00a0\u00a0\u00a01,846.348\u00a0\u00a0\u00a0\u200b"},
              {"panel": "HNX30", "line": 2, "kind": "name", "text": "\u200b\u00a0\u00a0\u00a0\u00a0\u00a0\u00a0\u00a0\u00a0\u00a0\u00a0\u00a0CP\u00a0\u00a0\u00a0\u00a0\u00a0\u00a0\u00a0\u00a0\u00a0\u00a0\u00a0Tỷ\u200b"},
              {"panel": "HNX30", "line": 3, "kind": "upArrow", "text": "\u200b↑\u00a0\u00a0\u00a0\u00a0\u00a0\u00a0\u00a0\u00a0\u00a0\u00a0\u00a0\u00a0\u00a0\u00a0\u00a0\u00a0\u00a0\u00a0\u00a0\u00a0\u00a0\u00a0\u00a0\u00a0\u00a0\u00a0\u00a0\u00a0\u00a0\u200b"},
              {"panel": "HNX30", "line": 3, "kind": "up", "text": "\u200b\u00a0\u00a010\u00a0\u00a0\u00a0\u00a0\u00a0\u00a0\u00a0\u00a0\u00a0\u00a0\u00a0\u00a0\u00a0\u00a0\u00a0\u00a0\u00a0\u00a0\u00a0\u00a0\u00a0\u00a0\u00a0\u00a0\u00a0\u00a0\u200b"},
              {"panel": "HNX30", "line": 3, "kind": "ceiling", "text": "\u200b\u00a0\u00a0\u00a0\u00a0\u00a0(0)\u00a0\u00a0\u00a0\u00a0\u00a0\u00a0\u00a0\u00a0\u00a0\u00a0\u00a0\u00a0\u00a0\u00a0\u00a0\u00a0\u00a0\u00a0\u00a0\u00a0\u00a0\u00a0\u200b"},
              {"panel": "HNX30", "line": 3, "kind": "refSquare", "text": "\u200b\u00a0\u00a0\u00a0\u00a0\u00a0\u00a0\u00a0\u00a0\u00a0■\u00a0\u00a0\u00a0\u00a0\u00a0\u00a0\u00a0\u00a0\u00a0\u00a0\u00a0\u00a0\u00a0\u00a0\u00a0\u00a0\u00a0\u00a0\u00a0\u00a0\u200b"},
              {"panel": "HNX30", "line": 3, "kind": "ref", "text": "\u200b\u00a0\u00a0\u00a0\u00a0\u00a0\u00a0\u00a0\u00a0\u00a0\u00a0\u00a02\u00a0\u00a0\u00a0\u00a0\u00a0\u00a0\u00a0\u00a0\u00a0\u00a0\u00a0\u00a0\u00a0\u00a0\u00a0\u00a0\u00a0\u00a0\u200b"},
              {"panel": "HNX30", "line": 3, "kind": "downArrow", "text": "\u200b\u00a0\u00a0\u00a0\u00a0\u00a0\u00a0\u00a0\u00a0\u00a0\u00a0\u00a0\u00a0\u00a0↓\u00a0\u00a0\u00a0\u00a0\u00a0\u00a0\u00a0\u00a0\u00a0\u00a0\u00a0\u00a0\u00a0\u00a0\u00a0\u00a0\u200b"},
              {"panel": "HNX30", "line": 3, "kind": "down", "text": "\u200b\u00a0\u00a0\u00a0\u00a0\u00a0\u00a0\u00a0\u00a0\u00a0\u00a0\u00a0\u00a0\u00a0\u00a0\u00a017\u00a0\u00a0\u00a0\u00a0\u00a0\u00a0\u00a0\u00a0\u00a0\u00a0\u00a0\u00a0\u00a0\u200b"},
              {"panel": "HNX30", "line": 3, "kind": "floor", "text": "\u200b\u00a0\u00a0\u00a0\u00a0\u00a0\u00a0\u00a0\u00a0\u00a0\u00a0\u00a0\u00a0\u00a0\u00a0\u00a0\u00a0\u00a0\u00a0(0)\u00a0\u00a0\u00a0\u00a0\u00a0\u00a0\u00a0\u00a0\u00a0\u200b"},
              {"panel": "HNX30", "line": 3, "kind": "figure", "text": "\u200b\u00a0\u00a0\u00a0\u00a0\u00a0\u00a0\u00a0\u00a0\u00a0\u00a0\u00a0\u00a0\u00a0\u00a0\u00a0\u00a0\u00a0\u00a0\u00a0\u00a0\u00a0\u00a0Đóng\u00a0cửa\u200b"}
            ]
          },
          "encoding": {
            "x": {"field": "panel", "type": "nominal", "axis": null},
            "y": {"field": "line", "type": "quantitative", "axis": null, "scale": {"domain": [0.5, 3.4], "reverse": true, "nice": false, "zero": false}},
            "text": {"field": "text", "type": "nominal"},
            "color": {
              "field": "kind", "type": "nominal", "legend": null,
              "scale": {
                "domain": ["name", "figure", "down", "downArrow", "up", "upArrow", "ceiling", "floor", "ref", "refSquare"],
                "range": ["#ffa41b", "#dedede", "#f83c3c", "#ff1c1c", "#1ef01e", "#14ee14", "#f23cf2", "#2ed8ea", "#ffd21e", "#ffff00"]
              }
            }
          },
          "layer": [
            {"transform": [{"filter": "datum.kind != 'upArrow' && datum.kind != 'downArrow'"}], "mark": {"type": "text", "font": "DejaVu Sans Mono", "fontSize": 20.5, "baseline": "middle", "align": "center"}},
            {"transform": [{"filter": "datum.kind == 'upArrow' || datum.kind == 'downArrow'"}], "mark": {"type": "text", "font": "DejaVu Sans Mono", "fontSize": 20.5, "fontWeight": "bold", "baseline": "middle", "align": "center"}}
          ]
        }
      ]
    }
  ]
}
